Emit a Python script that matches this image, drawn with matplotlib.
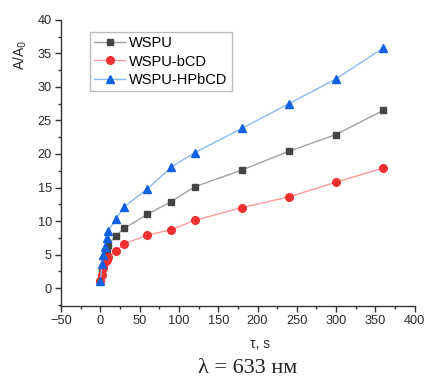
import numpy as np
import matplotlib.pyplot as plt
from matplotlib.ticker import MultipleLocator

plt.rcParams['font.family'] = ['Liberation Sans', 'DejaVu Sans']

# --- Data: absorbance ratio vs time ---
t = [0, 2, 4, 6, 8, 10, 20, 30, 60, 90, 120, 180, 240, 300, 360]
wspu = [1.0, 2.5, 3.2, 4.8, 5.6, 6.5, 7.8, 8.9, 11.0, 12.9, 15.1, 17.6, 20.4, 22.9, 26.5]
wspu_bcd = [1.0, 2.0, 3.0, 3.9, 4.2, 4.7, 5.5, 6.6, 7.9, 8.7, 10.1, 12.0, 13.6, 15.8, 17.9]
wspu_hpbcd = [1.0, 3.6, 4.9, 6.2, 7.4, 8.5, 10.35, 12.1, 14.8, 18.0, 20.2, 23.8, 27.5, 31.2, 35.8]

fig = plt.figure(figsize=(4.24, 3.81), dpi=100)
ax = fig.add_axes([0.144, 0.198, 0.834, 0.75])

ax.plot(t, wspu, color='#a0a0a0', lw=1, marker='s', ms=5,
        mfc='#444444', mec='#444444', label='WSPU')
ax.plot(t, wspu_bcd, color='#ff9a9a', lw=1, marker='o', ms=5.5,
        mfc='#f03030', mec='#f03030', label='WSPU-bCD')
ax.plot(t, wspu_hpbcd, color='#8ab8f0', lw=1, marker='^', ms=6,
        mfc='#1060e0', mec='#1060e0', label='WSPU-HPbCD')

ax.set_xlim(-50, 400)
ax.set_ylim(-2.6, 40)
ax.xaxis.set_major_locator(MultipleLocator(50))
ax.xaxis.set_minor_locator(MultipleLocator(25))
ax.yaxis.set_major_locator(MultipleLocator(5))
ax.yaxis.set_minor_locator(MultipleLocator(2.5))
ax.tick_params(which='major', length=4, width=1, labelsize=9.2,
               colors='#333333', labelcolor='#2a2a2a', pad=2.5)
ax.tick_params(which='minor', length=2.5, width=1, colors='#333333')
for s in ['top', 'right']:
    ax.spines[s].set_visible(False)
for s in ['left', 'bottom']:
    ax.spines[s].set_color('#333333')
    ax.spines[s].set_linewidth(1)

leg = ax.legend(loc='upper left', bbox_to_anchor=(0.082, 0.958), fontsize=10.5,
                frameon=True, fancybox=False, edgecolor='#aaaaaa',
                handlelength=2.1, borderpad=0.3, labelspacing=0.3,
                handletextpad=0.3, borderaxespad=0)
leg.get_frame().set_linewidth(1)

fig.text(0.047, 0.856, 'A/A$_0$', rotation=90, ha='center', va='center',
         fontsize=10, color='#2a2a2a')
fig.text(0.613, 0.098, 'τ, s', ha='center', va='center', fontsize=10,
         color='#2a2a2a')
fig.text(0.585, 0.032, 'λ = 633 нм', ha='center', va='center', fontsize=16,
         family=['Liberation Serif', 'DejaVu Serif'], color='#222222')

fig.savefig('out.png', dpi=100)
